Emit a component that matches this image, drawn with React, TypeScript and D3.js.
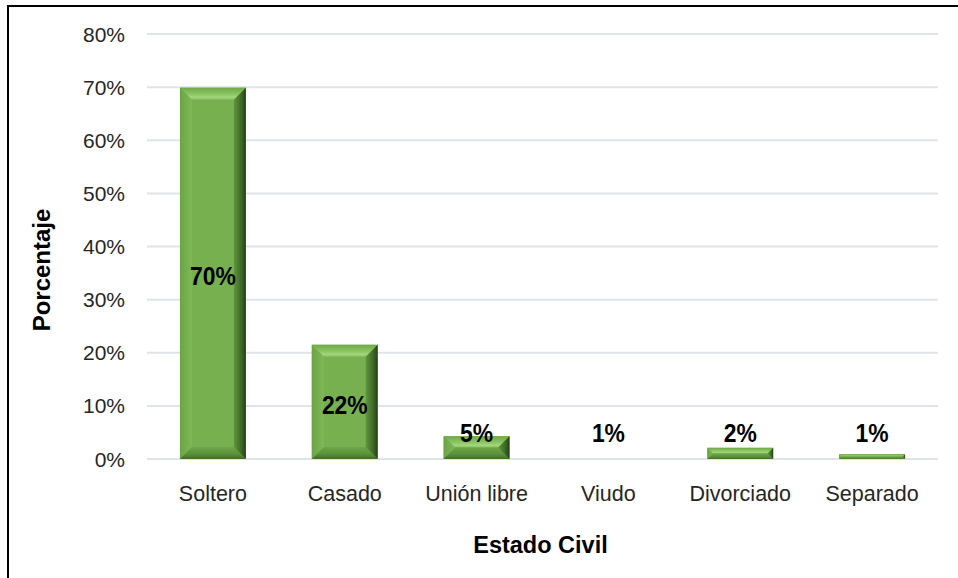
import React from "react";
import * as d3 from "d3";

const categories = ["Soltero", "Casado", "Unión libre", "Viudo", "Divorciado", "Separado"];
const values = [69.9, 21.5, 4.3, 0, 2.1, 0.9];
const valueLabels = ["70%", "22%", "5%", "1%", "2%", "1%"];
const yTicks = [0, 10, 20, 30, 40, 50, 60, 70, 80];
const xTitle = "Estado Civil";
const yTitle = "Porcentaje";

const W = 958;
const H = 578;
const plot = { left: 147, right: 938, top: 34, bottom: 459 };

export default function App() {
  const x = d3
    .scaleBand<string>()
    .domain(categories)
    .range([plot.left, plot.right])
    .paddingInner(0.5)
    .paddingOuter(0.25);
  const y = d3.scaleLinear().domain([0, 80]).range([plot.bottom, plot.top]);
  const font = "'Liberation Sans', Arial, sans-serif";

  return (
    <svg
      width={W}
      height={H}
      style={{ position: "absolute", left: 0, top: 0, background: "#fff" }}
    >
      <defs>
        <linearGradient id="gTop" x1="0" y1="0" x2="0" y2="1">
          <stop offset="0" stopColor="#6fa948" />
          <stop offset="0.55" stopColor="#8cc563" />
          <stop offset="0.8" stopColor="#a3d77b" />
          <stop offset="1" stopColor="#86bf5d" />
        </linearGradient>
        <linearGradient id="gRight" x1="0" y1="0" x2="1" y2="0">
          <stop offset="0" stopColor="#5f963c" />
          <stop offset="0.6" stopColor="#3f6a27" />
          <stop offset="1" stopColor="#24401a" />
        </linearGradient>
        <linearGradient id="gBottom" x1="0" y1="0" x2="0" y2="1">
          <stop offset="0" stopColor="#6ea647" />
          <stop offset="0.6" stopColor="#5a903a" />
          <stop offset="1" stopColor="#3f6c28" />
        </linearGradient>
        <linearGradient id="gLeft" x1="0" y1="0" x2="1" y2="0">
          <stop offset="0" stopColor="#6aa443" />
          <stop offset="1" stopColor="#7fb857" />
        </linearGradient>
      </defs>

      {/* frame */}
      <line x1={8} y1={6} x2={W} y2={6} stroke="#000" strokeWidth={2} />
      <line x1={8} y1={5} x2={8} y2={H} stroke="#000" strokeWidth={2} />

      {/* gridlines */}
      {yTicks.map((t) => (
        <line
          key={"g" + t}
          x1={plot.left}
          x2={plot.right}
          y1={y(t)}
          y2={y(t)}
          stroke="#dfe3ea"
          strokeWidth={2}
        />
      ))}

      {/* y tick labels */}
      {yTicks.map((t) => (
        <text
          key={"t" + t}
          x={125}
          y={y(t) + 7.5}
          textAnchor="end"
          fontFamily={font}
          fontSize={21}
          fill="#262626"
        >
          {t + "%"}
        </text>
      ))}

      {/* bars */}
      {categories.map((c, i) => {
        const v = values[i];
        const x0 = x(c)!;
        const x1 = x0 + x.bandwidth();
        const y0 = y(v);
        const y1 = y(0);
        const h = y1 - y0;
        if (h <= 0.2) return null;
        const b = Math.min(12, h / 2, x.bandwidth() / 2);
        const pts = (arr: number[][]) => arr.map((p) => p.join(",")).join(" ");
        return (
          <g key={"b" + c}>
            <rect x={x0} y={y0} width={x1 - x0} height={h} fill="#77b04f" />
            <polygon
              points={pts([[x0, y0], [x1, y0], [x1 - b, y0 + b], [x0 + b, y0 + b]])}
              fill="url(#gTop)"
            />
            <polygon
              points={pts([[x0, y0], [x0 + b, y0 + b], [x0 + b, y1 - b], [x0, y1]])}
              fill="url(#gLeft)"
            />
            <polygon
              points={pts([[x0, y1], [x0 + b, y1 - b], [x1 - b, y1 - b], [x1, y1]])}
              fill="url(#gBottom)"
            />
            <polygon
              points={pts([[x1, y0], [x1, y1], [x1 - b, y1 - b], [x1 - b, y0 + b]])}
              fill="url(#gRight)"
            />
          </g>
        );
      })}

      {/* data labels */}
      {categories.map((c, i) => {
        const cx = x(c)! + x.bandwidth() / 2;
        const mid = (y(values[i]) + y(0)) / 2 + 3;
        const cy = Math.min(mid, y(0) - 26);
        return (
          <text
            key={"l" + c}
            transform={`translate(${cx},${cy + 9}) scale(0.88,1)`}
            textAnchor="middle"
            fontFamily={font}
            fontWeight="bold"
            fontSize={26}
            fill="#000"
          >
            {valueLabels[i]}
          </text>
        );
      })}

      {/* x tick labels */}
      {categories.map((c) => (
        <text
          key={"x" + c}
          x={x(c)! + x.bandwidth() / 2}
          y={501}
          textAnchor="middle"
          fontFamily={font}
          fontSize={21.5}
          fill="#262626"
        >
          {c}
        </text>
      ))}

      {/* axis titles */}
      <text
        x={(plot.left + plot.right) / 2 - 2}
        y={553}
        textAnchor="middle"
        fontFamily={font}
        fontWeight="bold"
        fontSize={23.5}
        fill="#000"
      >
        {xTitle}
      </text>
      <text
        transform={`translate(50,270) rotate(-90)`}
        textAnchor="middle"
        fontFamily={font}
        fontWeight="bold"
        fontSize={24}
        fill="#000"
      >
        {yTitle}
      </text>
    </svg>
  );
}
